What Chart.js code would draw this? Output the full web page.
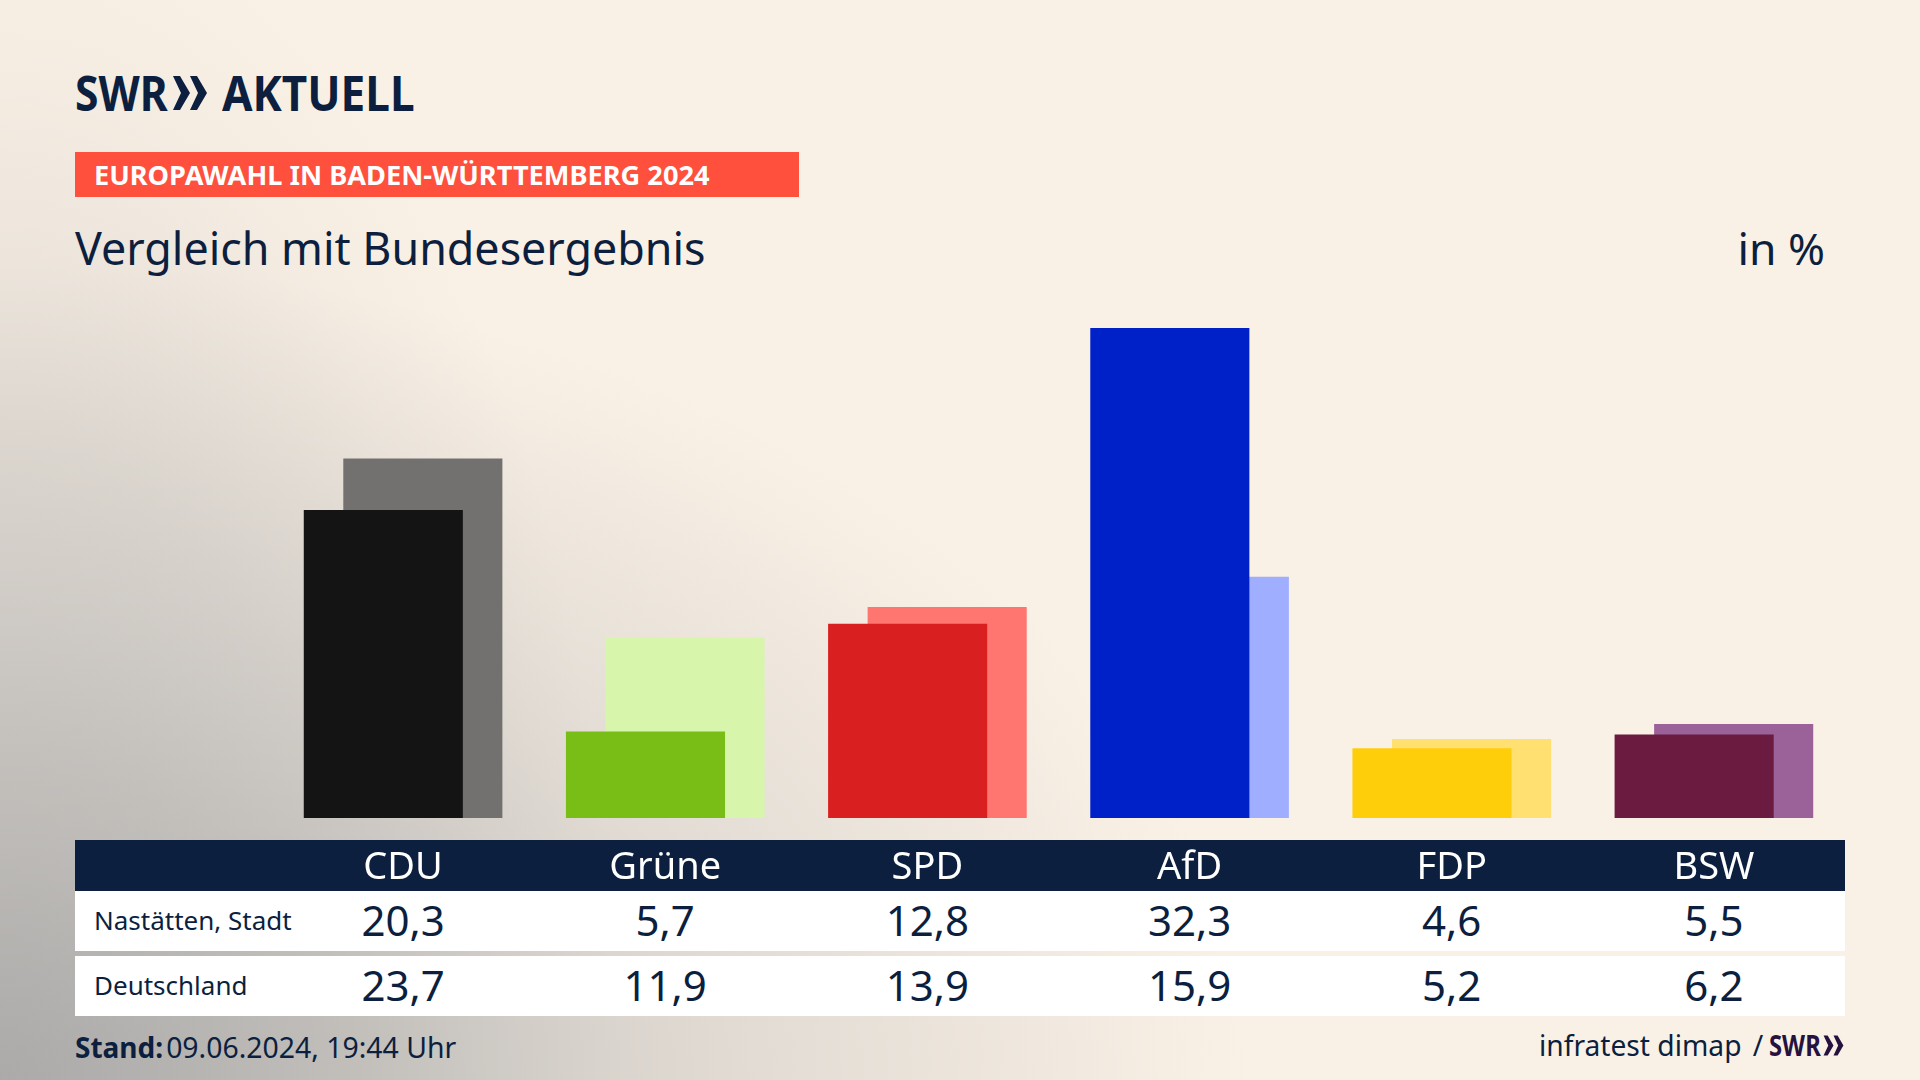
<!DOCTYPE html>
<html lang="de">
<head>
<meta charset="utf-8">
<title>Europawahl in Baden-Württemberg 2024</title>
<script src="https://cdn.jsdelivr.net/npm/chart.js@4"></script>
<style>
  html, body { margin: 0; padding: 0; }
  body {
    position: relative; width: 1920px; height: 1080px; overflow: hidden;
    font-family: "Noto Sans", sans-serif; color: #0c1f3f;
    background:
      radial-gradient(ellipse 1250px 820px at 0% 100%, rgba(160,160,160,.78) 0%, rgba(165,165,165,.55) 30%, rgba(170,170,170,.3) 60%, rgba(170,170,170,0) 100%),
      radial-gradient(ellipse 620px 1200px at 0% 100%, rgba(160,160,160,.42) 0%, rgba(160,160,160,.22) 55%, rgba(160,160,160,.07) 82%, rgba(160,160,160,0) 100%),
      #faf1e6;
  }
  .abs { position: absolute; white-space: nowrap; }
  .schmal { position: absolute; display: inline-block; transform-origin: 0 0; font-weight: bold; }
  #swr1 { left: 75px; top: 62px; font-size: 49px; line-height: 60px; transform: scaleX(.87); }
  #aktuell { left: 222px; top: 62px; font-size: 49px; line-height: 60px; transform: scaleX(.9); }
  #pfeil1 { position: absolute; left: 172px; top: 75px; }
  #band { left: 75px; top: 152px; width: 724px; height: 45px; background: #ff4f3d; }
  #band span { position: absolute; left: 19px; top: 0; font: bold 27.2px/45px "Noto Sans"; color: #fff; }
  #title { left: 75px; top: 218px; font-size: 44.8px; line-height: 60px; }
  #unit { right: 95px; top: 218px; font-size: 44.5px; line-height: 60px; }
  #kopf { left: 75px; top: 840px; width: 1770px; height: 51px; background: #0c1f3f; }
  #chart { position: absolute; left: 272px; top: 287px; }
  table { position: absolute; left: 75px; top: 891px; width: 1770px; border-collapse: collapse; table-layout: fixed; }
  td { background: #fff; padding: 0; text-align: center; font-size: 42px; height: 60px; line-height: 58px; vertical-align: top; }
  td.name { text-align: left; padding-left: 19px; font-size: 26px; white-space: nowrap; }
  tr.luecke td { background: none; height: 5px; line-height: 5px; font-size: 1px; }
  #stand { left: 75px; top: 1027px; font-size: 28px; line-height: 40px; }
  #stand b { margin-right: 3px; }
  #stand span { font-size: 28.4px; }
  #quelle { left: 1539px; top: 1025px; font-size: 28.2px; line-height: 40px; }
  #quelle i { font-style: normal; margin-left: 4px; }
  #swr2 { left: 1769px; top: 1025px; font-size: 28px; line-height: 40px; color: #26123f; transform: scaleX(.85); }
  #pfeil2 { position: absolute; left: 1823px; top: 1035px; }
</style>
</head>
<body>
  <span class="schmal" id="swr1">SWR</span>
  <svg id="pfeil1" width="36" height="36" viewBox="0 0 36 36"><path fill="#0c1f3f" d="M1 1h7l10 17-10 17H1l8-17zM18 1h7l10 17-10 17H18l8-17z"/></svg>
  <span class="schmal" id="aktuell">AKTUELL</span>
  <div class="abs" id="band"><span>EUROPAWAHL IN BADEN-WÜRTTEMBERG 2024</span></div>
  <div class="abs" id="title">Vergleich mit Bundesergebnis</div>
  <div class="abs" id="unit">in %</div>
  <div class="abs" id="kopf"></div>
  <canvas id="chart" width="1573" height="603"></canvas>
  <table id="tabelle"></table>
  <div class="abs" id="stand"><b>Stand:</b><span>09.06.2024, 19:44 Uhr</span></div>
  <div class="abs" id="quelle">infratest dimap <i>/</i></div>
  <span class="schmal" id="swr2">SWR</span>
  <svg id="pfeil2" width="21" height="21" viewBox="0 0 36 36"><path fill="#26123f" d="M1 1h7l10 17-10 17H1l8-17zM18 1h7l10 17-10 17H18l8-17z"/></svg>

<script>
const parteien = ['CDU', 'Grüne', 'SPD', 'AfD', 'FDP', 'BSW'];
const nastaetten = [20.3, 5.7, 12.8, 32.3, 4.6, 5.5];
const deutschland = [23.7, 11.9, 13.9, 15.9, 5.2, 6.2];
const farben = ['#141414', '#78be17', '#d91f1f', '#0021c8', '#ffce0a', '#6b1a40'];
const farbenHell = ['#73716f', '#d7f5ab', '#ff7570', '#9faeff', '#ffe070', '#9b6299'];

// Tabelle unter dem Diagramm
function zeile(name, werte) {
  const zellen = werte.map(w => '<td>' + w.toFixed(1).replace('.', ',') + '</td>').join('');
  return '<tr><td class="name">' + name + '</td>' + zellen + '</tr>';
}
document.getElementById('tabelle').innerHTML =
  '<colgroup><col style="width:197px">' + '<col style="width:262.17px">'.repeat(6) + '</colgroup>' +
  zeile('Nastätten, Stadt', nastaetten) +
  '<tr class="luecke"><td colspan="7"></td></tr>' +
  zeile('Deutschland', deutschland);

// Balken überlappen sich: barPercentage > 1 im gruppierten Modus
new Chart(document.getElementById('chart').getContext('2d'), {
  type: 'bar',
  data: {
    labels: parteien,
    datasets: [
      { label: 'Nastätten, Stadt', data: nastaetten, backgroundColor: farben },
      { label: 'Deutschland', data: deutschland, backgroundColor: farbenHell }
    ]
  },
  options: {
    responsive: false,
    animation: false,
    categoryPercentage: 79 / 262,
    barPercentage: 159 / 39.5,
    plugins: { legend: { display: false }, tooltip: { enabled: false } },
    scales: {
      x: {
        grid: { display: false },
        border: { display: false },
        ticks: { color: '#ffffff', padding: 19, maxRotation: 0, font: { family: 'Noto Sans', size: 38 } },
        afterFit: scale => { scale.height = 72; }
      },
      y: { display: false, min: 0, max: 35 }
    }
  }
});
</script>
</body>
</html>
